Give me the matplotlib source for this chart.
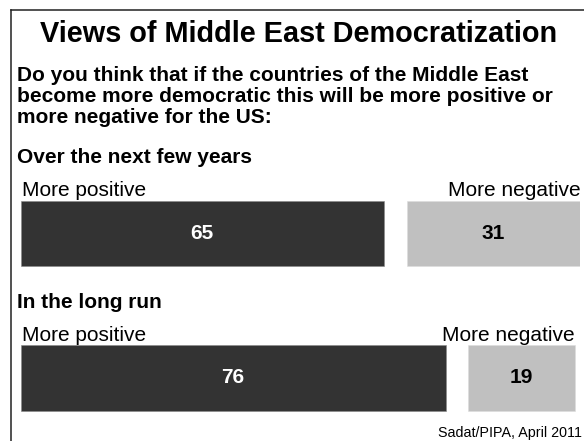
import matplotlib
matplotlib.use('Agg')
import matplotlib.pyplot as plt
from matplotlib.lines import Line2D

plt.rcParams['font.family'] = ['Liberation Sans', 'DejaVu Sans']

# data
rows = ['Over the next few years', 'In the long run']
positive = [65, 76]
negative = [31, 19]
pos_label = 'More positive'
neg_label = 'More negative'
title = 'Views of Middle East Democratization'
question = ['Do you think that if the countries of the Middle East',
            'become more democratic this will be more positive or',
            'more negative for the US:']
source = 'Sadat/PIPA, April 2011'

W, H = 584, 441
dark = '#333333'
light = '#c0c0c0'
gap = 4.1  # white space between the two bars, in percent units


def fx(px):
    return px / W


def fy(py):
    return 1 - py / H


fig = plt.figure(figsize=(W / 100, H / 100), dpi=100)
fig.patch.set_facecolor('white')

# frame (top and left edges only)
fig.add_artist(Line2D([fx(10.5), 1], [fy(9.5), fy(9.5)], color='#222222', lw=1.1))
fig.add_artist(Line2D([fx(10.5), fx(10.5)], [fy(9.5), 0], color='#222222', lw=1.1))

fig.text(fx(298.5), fy(42), title, ha='center', va='baseline',
         fontsize=20.8, fontweight='bold')
for i, line in enumerate(question):
    fig.text(fx(17), fy(81 + 21 * i), line, ha='left', va='baseline',
             fontsize=15, fontweight='bold')

# bars axes, ~5.6 px per percent point
top_px, bot_px = 190, 420
row_c = [233.3, 377.9]
step = row_c[1] - row_c[0]
ax = fig.add_axes([fx(20.7), fy(bot_px), 559 / W, (bot_px - top_px) / H])
ax.set_xlim(0, 100)
ax.set_ylim((bot_px - row_c[0]) / step, -(row_c[0] - top_px) / step)
ax.axis('off')

bh = 65.3 / step
y = list(range(len(rows)))
ax.barh(y, positive, height=bh, color=dark, edgecolor='#888888', linewidth=0.4)
left_neg = [p + gap for p in positive]
ax.barh(y, negative, left=left_neg, height=bh, color=light,
        edgecolor='#dddddd', linewidth=0.4)

for i in y:
    ax.text(positive[i] / 2, i, str(positive[i]), ha='center', va='center',
            color='white', fontsize=15, fontweight='bold')
    ax.text(left_neg[i] + negative[i] / 2, i, str(negative[i]), ha='center',
            va='center', color='black', fontsize=15, fontweight='bold')
    ax.annotate(pos_label, (0, i - bh / 2), xytext=(1, 3), textcoords='offset points',
                ha='left', va='baseline', fontsize=15, annotation_clip=False)
    ax.annotate(neg_label, (left_neg[i] + negative[i], i - bh / 2), xytext=(0, 3),
                textcoords='offset points', ha='right', va='baseline',
                fontsize=15, annotation_clip=False)
    ax.annotate(rows[i], (0, i - bh / 2), xytext=(-3, 27), textcoords='offset points',
                ha='left', va='baseline', fontsize=15, fontweight='bold',
                annotation_clip=False)

fig.text(fx(582), fy(437), source, ha='right', va='baseline', fontsize=10.3)

fig.savefig('out.png', dpi=100, facecolor='white')
